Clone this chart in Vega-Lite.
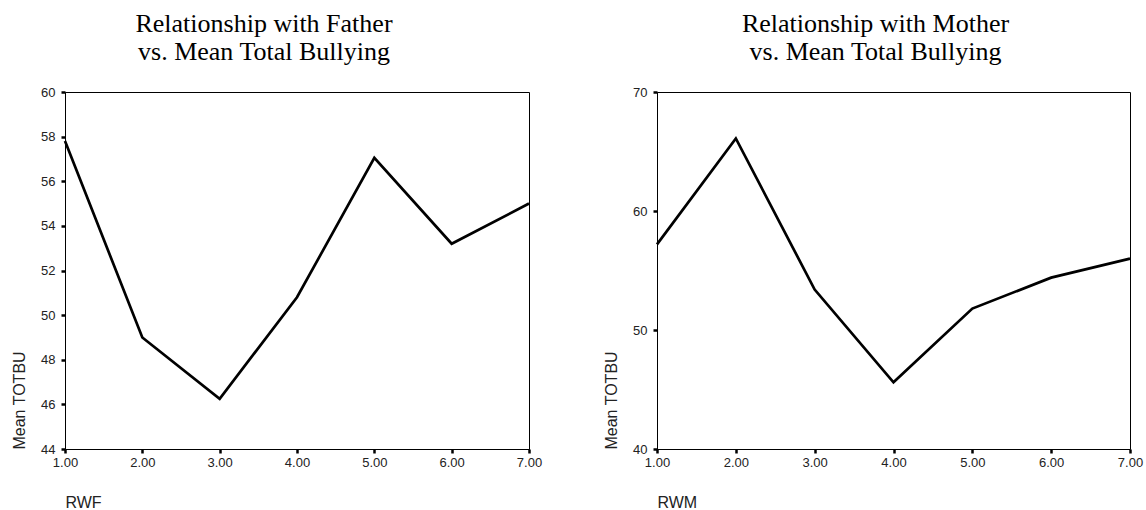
{
  "$schema": "https://vega.github.io/schema/vega-lite/v6.json",
  "background": "white",
  "padding": {"left": 11, "top": 10, "right": 3, "bottom": 0},
  "datasets": {
    "father": [
      {"RWF": 1, "MeanTOTBU": 57.8},
      {"RWF": 2, "MeanTOTBU": 49.0},
      {"RWF": 3, "MeanTOTBU": 46.25},
      {"RWF": 4, "MeanTOTBU": 50.8},
      {"RWF": 5, "MeanTOTBU": 57.05},
      {"RWF": 6, "MeanTOTBU": 53.2},
      {"RWF": 7, "MeanTOTBU": 55.0}
    ],
    "mother": [
      {"RWM": 1, "MeanTOTBU": 57.2},
      {"RWM": 2, "MeanTOTBU": 66.1},
      {"RWM": 3, "MeanTOTBU": 53.4},
      {"RWM": 4, "MeanTOTBU": 45.6},
      {"RWM": 5, "MeanTOTBU": 51.8},
      {"RWM": 6, "MeanTOTBU": 54.4},
      {"RWM": 7, "MeanTOTBU": 56.0}
    ]
  },
  "config": {
    "view": {"stroke": "black", "strokeWidth": 1},
    "axis": {
      "domainColor": "black", "tickColor": "black", "labelColor": "#222", "titleColor": "#222",
      "labelFont": "Liberation Sans", "titleFont": "Liberation Sans",
      "labelFontSize": 13, "titleFontSize": 16, "titleFontWeight": "normal",
      "grid": false, "tickWidth": 2.5, "tickSize": 4, "domainWidth": 1, "labelFlush": false
    },
    "title": {"font": "Liberation Serif", "fontSize": 26, "fontWeight": "normal", "color": "black", "lineHeight": 28, "offset": 21}
  },
  "spacing": 128,
  "bounds": "flush",
  "hconcat": [
    {
      "width": 464, "height": 357,
      "title": {"text": ["Relationship with Father", "vs. Mean Total Bullying"], "dx": -33},
      "data": {"name": "father"},
      "mark": {"type": "line", "color": "black", "strokeWidth": 2.7, "strokeJoin": "miter"},
      "encoding": {
        "x": {"field": "RWF", "type": "quantitative", "scale": {"domain": [1, 7], "nice": false},
              "axis": {"values": [1, 2, 3, 4, 5, 6, 7], "format": ".2f", "title": "RWF", "titleAnchor": "start", "titlePadding": 25, "labelPadding": 3}},
        "y": {"field": "MeanTOTBU", "type": "quantitative", "scale": {"domain": [44, 60], "nice": false, "zero": false},
              "axis": {"values": [44, 46, 48, 50, 52, 54, 56, 58, 60], "title": "Mean TOTBU", "titleAnchor": "start", "labelPadding": 6, "titlePadding": 13}}
      }
    },
    {
      "width": 473, "height": 357,
      "title": {"text": ["Relationship with Mother", "vs. Mean Total Bullying"], "dx": -18},
      "data": {"name": "mother"},
      "mark": {"type": "line", "color": "black", "strokeWidth": 2.7, "strokeJoin": "miter"},
      "encoding": {
        "x": {"field": "RWM", "type": "quantitative", "scale": {"domain": [1, 7], "nice": false},
              "axis": {"values": [1, 2, 3, 4, 5, 6, 7], "format": ".2f", "title": "RWM", "titleAnchor": "start", "titlePadding": 25, "labelPadding": 3}},
        "y": {"field": "MeanTOTBU", "type": "quantitative", "scale": {"domain": [40, 70], "nice": false, "zero": false},
              "axis": {"values": [40, 50, 60, 70], "title": "Mean TOTBU", "titleAnchor": "start", "labelPadding": 6, "titlePadding": 13}}
      }
    }
  ]
}
